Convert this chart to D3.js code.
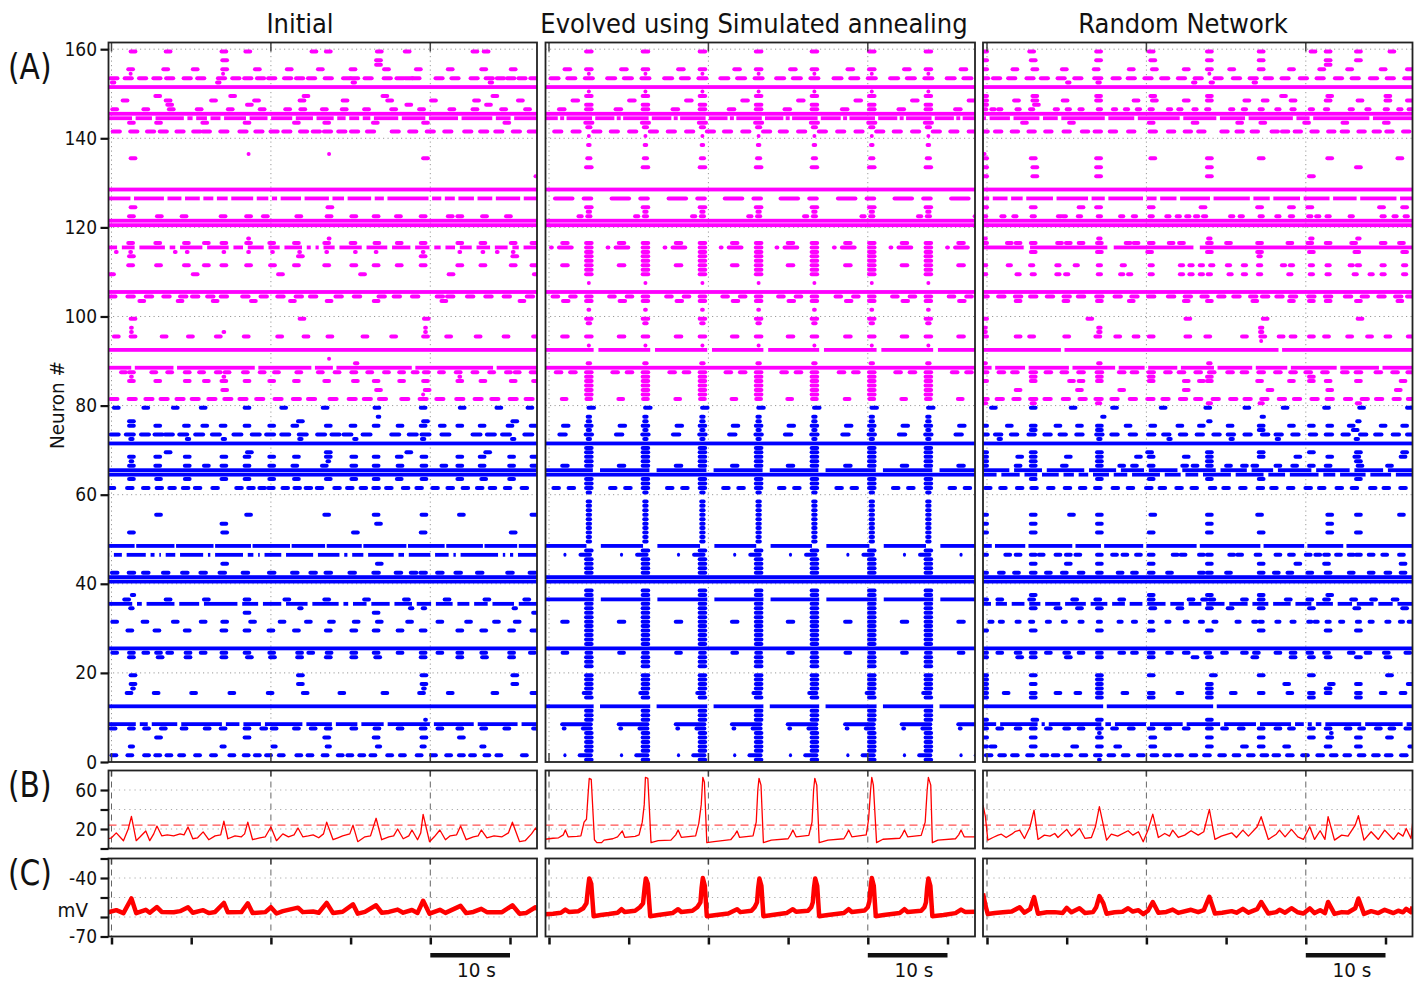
<!DOCTYPE html>
<html><head><meta charset="utf-8">
<script src="https://cdn.jsdelivr.net/npm/d3@7"></script>
<style>body{margin:0;background:#fff}svg{display:block}text{font-family:"DejaVu Sans",sans-serif;fill:#111}</style>
</head><body><svg id="c" width="1419" height="981"></svg>
<script>
const titles = ["Initial", "Evolved using Simulated annealing", "Random Network"];
const timeTicks = [0, 10, 20, 30, 40, 50];
const gridTimes = [0, 20, 40];
const neuronTicks = [0, 20, 40, 60, 80, 100, 120, 140, 160];
const rateTicks = [0, 20, 40, 60], rateLabels = [20, 60];
const voltTicks = [-70, -60, -50, -40, -30], voltLabels = [-70, -40];
const rateThreshold = 24;
const evolvedEvents = [5.0, 12.1, 19.25, 26.3, 33.3, 40.5, 47.6, 54.7];

// row formats: [neuron, [burst times], width] | [neuron,'L',gaps,gapWidth] | [neuron,'E',offsets,width] | [neuron,'ES',segments] | [neuron,'EL',gapSegments]
const initialRows = [
[159,[2.7,7.1,14.1,17.1,25.4,27.2,33.6,37.1,45.6,47.0]],
[157,[14.2,33.5]],[156,[33.5]],
[155,[2.4,6.8,10.5,14.2,18.3,22.3,26.2,30.3,34.5,38.5,42.5,46.7,50.4]],
[154,[2.4,14.0],0.5],
[153,[0.3,2.1,3.9,5.7,7.3,9.5,11.2,13.8,15.6,17.1,18.7,20.1,22.1,23.6,25.1,27.2,29.5,30.5,32.2,34.6,36.2,37.3,38.2,41.1,43.1,45.5,47.4,48.8,50.1,51.5,53.0],1.4],
[152,[0.2,13.4,30.4,47.6],0.8],
[151,'L'],
[149,[5.8,15.2,24.4,34.3,48.1]],
[148,[1.7,7.1,12.8,18.2,23.9,29.3,34.9,40.4,45.8,51.3]],
[147,[7.3,17.3,37.3,47.3]],
[146,[0.4,4.3,7.5,11.0,14.9,18.9,22.1,24.0,26.7,29.2,32.0,35.4,38.9,42.7,45.6,49.2,52.2]],
[145,'L'],
[144,'L',[2.8,5.3,9.3,10.4,12.2,13.9,17.1,19.8,22.9,25.5,28.1,29.6,31.3,32.7,36.2,39.6,43.7,48.0,50.3]],
[143,[2.5,5.9,11.7,17.0,23.2,27.0,33.1,39.4,49.6]],
[141,[0.6,2.8,4.9,6.5,8.6,10.7,11.9,14.1,16.5,18.5,20.4,22.0,24.1,25.7,27.1,28.9,30.5,32.5,35.6,37.8,40.0,42.2,44.7,46.7,48.6,50.8,52.8],1.4],
[136,[17.2,27.3],0.5],
[135,[2.7,39.4]],
[131,[53.2],0.5],
[128,'L'],
[126,'L',[2.6,6.8,9.0,11.3,13.0,14.8,18.0,19.9,21.0,24.0,27.5,29.4,32.8,34.4,40.0,41.6,43.3,45.7,48.0,51.5]],
[124,[2.7,27.4]],
[122,[2.5,6.0,9.1,14.0,17.2,19.3,23.5,27.3,30.4,33.2,36.0,39.1,42.5,43.7,46.8,49.8]],
[121,'L'],[120,'L'],
[117,[17.2,27.3],0.6],
[116,[2.4,5.8,9.4,11.9,14.1,17.2,20.1,23.2,27.0,30.3,33.3,36.1,39.1,43.7,46.6,50.4,53.0]],
[115,'L',[1.0,3.2,7.0,8.3,11.7,15.0,16.8,19.4,21.4,24.2,25.3,26.3,28.3,31.7,34.9,37.8,40.2,41.6,43.4,45.5,47.8,50.0,51.4],0.6],
[114,[0.6,2.4,8.0,9.5,14.1,17.2,20.2,23.6,27.0,30.6,33.2,39.1,43.7,46.6,48.4,50.4],0.6],
[113,[2.5,23.7,39.1,50.6]],
[111,[2.4,5.9,9.4,11.9,14.1,17.2,20.2,23.2,27.0,30.4,33.2,36.1,39.1,43.7,46.6,50.4,53.0]],
[109,[0.0,10.5,21.2,31.5,42.6,53.3]],
[105,'L'],
[104,[0.1,2.4,4.7,6.9,9.0,10.5,12.4,14.1,16.8,19.1,21.2,23.5,25.3,28.5,30.8,33.9,35.8,38.1,41.2,42.5,45.0,47.3,49.6,52.5],1.3],
[103,[3.8,8.6,13.0,17.8,22.7,27.3,33.2,41.7,51.5]],
[99,[2.7,23.9,39.5]],
[97,[2.5,39.4],0.6],[96,[2.5,14.1,39.4],0.6],
[95,[0.6,2.7,6.6,9.9,13.4,16.9,21.1,24.4,27.4,31.8,35.4,39.4,42.3,46.0,49.5,53.2]],
[92,'L'],
[90,[27.3],0.5],[89,[30.7],0.8],
[88,'L',[2.7,8.0,18.2,25.3,28.0,37.9,48.1]],
[87,[1.5,2.5,5.3,7.3,9.5,11.3,13.4,14.5,16.8,18.9,20.7,23.5,26.2,28.3,30.4,32.4,34.5,36.4,38.1,39.5,41.4,43.5,45.6,47.7,49.8,50.9,52.9]],
[86,[2.5,14.1,43.7],0.6],
[85,[2.5,5.8,9.5,11.9,14.1,17.0,20.1,23.2,27.0,30.6,33.2,36.4,39.4,43.7,46.6,50.4,53.2]],
[83,[14.2,33.5,39.6]],
[82,[39.1],0.5],
[81,[0.3,2.6,4.7,6.6,8.6,10.5,12.6,14.6,16.5,18.6,20.9,23.2,25.1,27.8,30.2,32.1,34.0,36.8,39.1,41.2,43.7,46.0,48.1,50.4,52.4],1.4],
[79,[0.6,4.3,8.0,11.5,17.0,21.6,26.8,33.3,39.1,44.0,48.6,52.5]],
[77,[33.5],0.7],
[76,[2.5,23.7,39.4,50.6]],
[75,[2.5,5.8,9.4,11.7,14.0,17.0,20.1,23.0,27.2,30.3,33.2,36.2,39.1,41.5,43.7,46.5,50.0,52.9]],
[73,[0.4,2.3,4.2,5.9,7.2,9.0,11.0,13.1,15.8,18.1,19.9,21.8,24.0,26.3,28.1,29.6,32.0,35.6,37.8,39.4,41.9,45.8,47.6,49.5,52.3],1.5],
[72,[2.5,9.6,14.1,23.7,30.6,39.1,50.4],0.8],
[71,'L'],
[69,[7.1,17.3,27.2,37.3,47.2]],
[68,[2.5,5.8,9.5,14.1,17.0,20.1,23.2,27.2,30.4,33.2,36.1,39.2,43.7,46.5,50.2,53.0]],
[67,[2.5,27.2],0.7],
[66,[2.5,5.8,9.5,11.9,14.1,17.0,20.1,23.0,26.7,30.4,33.2,36.2,39.2,41.7,43.7,46.5,50.2,53.0]],
[65,'L'],[64,'L'],
[63,[2.5,5.9,9.5,14.1,17.0,20.1,23.2,27.2,30.4,33.2,36.1,39.2,43.7,46.7,50.2]],
[61,[0.0,2.3,4.3,6.0,7.6,9.3,10.8,13.0,16.0,17.5,18.9,20.0,21.8,23.3,24.7,26.1,28.3,29.9,31.6,33.2,34.8,36.9,38.6,40.6,42.5,44.4,46.2,47.8,49.7,51.8],1.2],
[55,[5.9,17.2,27.0,33.2,39.2,43.9,53.0]],
[53,[14.1,33.5]],
[51,[2.5,14.2,30.6,39.1,50.4]],
[48,'L',[3.0,8.0,12.9,17.6,22.5,26.9,31.5,37.1,41.9,46.7,51.0],0.2],
[46,'L',[0.0,1.6,4.6,5.7,6.5,8.3,11.8,12.7,16.8,18.1,18.9,21.6,25.6,28.9,29.9,31.9,35.7,37.0,40.3,42.6,43.5,48.8,49.7,50.7],0.6],
[44,[14.2,33.6]],
[42,[0.4,2.5,4.3,6.8,9.2,11.5,13.9,16.8,20.1,23.0,25.3,27.2,30.2,33.2,36.0,37.9,39.1,41.2,43.5,46.2,50.0,52.8],1.2],
[41,'L'],[40,'L'],
[37,[2.7],0.8],
[36,[1.9,7.1,11.9,17.0,22.0,27.0,32.0,37.0,42.1,47.1,52.1]],
[35,'L',[2.9,4.1,8.2,11.3,16.1,18.7,21.6,24.9,28.8,30.0,32.3,35.2,38.0,40.4,43.1,45.2,47.5,50.8],0.6],
[34,[2.5,23.7,37.6,39.2,50.6],0.8],
[33,[17.0,33.2,53.2]],
[31,[0.4,4.2,8.0,11.5,14.2,17.7,21.4,24.7,27.6,30.7,33.6,37.4,41.2,44.8,48.3,50.9]],
[29,[2.3,5.7,9.5,14.1,17.0,20.0,23.2,27.2,30.4,33.2,36.2,39.1,43.7,46.7,50.2,53.0]],
[25,'L'],
[24,[0.4,2.5,4.3,5.9,7.3,9.6,11.5,14.1,17.0,20.1,23.6,25.0,27.3,30.4,33.2,36.2,39.1,41.2,43.7,46.7,50.2,52.8]],
[23,[2.5,6.1,9.6,14.1,17.3,20.2,23.6,27.2,30.4,33.4,39.1,43.7,46.8,50.2]],
[19,[2.7,23.7,39.2,50.6]],
[17,[2.7,23.7,39.2,50.6]],
[16,[2.7,39.2],0.7],
[15,[2.2,5.6,10.3,15.1,19.9,24.3,28.9,34.3,38.9,42.5,48.1,53.0]],
[12,'L'],
[9,[39.4],0.6],
[8,'L',[3.3,4.8,8.5,14.1,16.3,19.0,24.2,27.9,31.1,34.4,40.2,45.7,51.2],0.5],
[7,[0.2,2.5,4.4,6.5,9.1,12.0,14.0,17.0,19.1,20.4,23.2,25.3,27.2,30.4,33.3,36.2,39.1,41.2,43.7,46.7,49.6,53.2]],
[5,[5.9,17.0,27.0,33.2,39.2,43.9]],
[3,[2.5,14.0,20.4,27.2,33.5,39.1,46.6],0.9],
[1,[0.3,2.3,4.4,5.8,7.2,8.8,10.8,12.8,15.1,16.9,18.3,19.7,21.3,23.5,24.9,26.8,28.7,29.9,31.4,32.8,34.9,36.5,38.6,40.4,42.3,43.9,45.3,47.1,48.6,51.8]]
];

const evolvedRows = [
[159,'E',[0]],[155,'E',[-2.7,0]],[154,'E',[0],0.5],[153,'E',[-4.3,-2.2,0],1.5],
[151,'L'],[150,'E',[0],0.5],[149,'E',[0]],[148,'E',[-1.7],1.2],[147,'E',[0]],[146,'E',[-3.4,0]],
[145,'L'],[144,'EL',[[-3.9,-3.6],[-3.1,-2.8],[0.4,0.8]]],
[143,'E',[0],1.4],[142,'E',[0],0.9],[141,'E',[-3.9,-1.6,1.0],1.4],[140,'E',[0],0.5],
[138,'E',[0],0.7],[135,'E',[0],0.9],[133,'E',[0],1.2],
[128,'L'],[126,'ES',[[-4.5,-1.8],[-0.9,0.55]]],
[124,'E',[0],1.2],[123,'E',[0],0.8],[122,'E',[-1.1,0],0.9],
[121,'L'],[120,'L'],
[116,'E',[-3.0,0],1.2],[115,'ES',[[-5.0,-4.4],[-4.0,-1.9],[-0.6,0.6]]],
[114,'E',[0]],[113,'E',[0]],[112,'E',[0]],[111,'E',[-3.0,0]],[110,'E',[0]],[109,'E',[0]],
[107,'E',[0],0.5],[105,'L'],[104,'E',[-4.2,-2.0,0],1.2],[103,'E',[-2.9,0]],
[101,'E',[0],0.6],[99,'E',[0],1.2],[98,'E',[0],0.8],[95,'E',[-3.0,0],1.2],[93,'E',[0],0.5],
[92,'EL',[[0.6,1.2]]],[89,'E',[0],0.8],[88,'L'],[87,'E',[-3.8,-2.0,0],1.2],
[86,'E',[0]],[85,'E',[0]],[84,'E',[0]],[83,'E',[0]],[82,'E',[0]],[81,'E',[-3.1,0],1.1],
[79,'E',[0.3],1.2],[77,'E',[0],0.8],[76,'E',[0],0.8],[75,'E',[-2.9,0]],[74,'E',[0],0.8],
[73,'E',[-3.3,0],1.3],[72,'E',[0],0.8],[71,'L'],
[70,'E',[0]],[69,'E',[0]],[68,'E',[0]],[67,'E',[0]],[66,'E',[-3.0,0],1.2],
[65,'EL',[[0.5,1.4]]],[64,'L'],[63,'E',[0]],[62,'E',[0]],[61,'E',[-4.1,-2.2,0]],[60,'E',[0],0.8],
[58,'E',[0],0.8],[57,'E',[0],0.8],[56,'E',[0],0.8],[55,'E',[0],0.8],[54,'E',[0],0.8],
[53,'E',[0],0.8],[52,'E',[0],0.8],[51,'E',[0],0.8],[50,'E',[0],0.8],[49,'E',[0],0.8],
[48,'EL',[[-0.3,1.5]]],[47,'E',[0]],[46,'ES',[[-3.2,-2.8],[-1.3,0.4]]],
[45,'E',[0]],[44,'E',[0]],[43,'E',[0]],[42,'E',[0]],
[41,'L'],[40,'L'],
[38,'E',[0]],[37,'E',[0]],[36,'EL',[[0.6,1.5]]],[35,'E',[0]],[34,'E',[0]],[33,'E',[0]],
[32,'E',[0]],[31,'E',[-3.0,0]],[30,'E',[0]],[29,'E',[0]],[28,'E',[0]],[27,'E',[0]],[26,'E',[0]],
[25,'L'],[24,'E',[-3.0,0],1.1],[23,'E',[0]],[22,'E',[0]],[21,'E',[0]],
[19,'E',[0]],[18,'E',[0]],[17,'E',[0]],[16,'E',[0]],[15,'ES',[[-0.9,0.5]]],[14,'E',[0]],
[12,'EL',[[0.6,1.4]]],
[11,'E',[0]],[10,'E',[0]],[9,'E',[0]],[8,'ES',[[-3.6,0.5]]],[7,'ES',[[-3.4,-2.8],[-1.0,0.5]]],
[6,'E',[0]],[5,'E',[0]],[4,'E',[0]],[3,'E',[0]],[2,'E',[0]],[1,'ES',[[-3.2,-2.8],[-1.4,0.5]]],[0,'E',[0]]
];

const randomRows = [
[159,[-0.3,5.6,14.0,20.6,27.9,34.4,40.9,42.8,46.6,50.8]],
[157,[-0.3,5.8,14.0,20.8,27.9,34.4,42.8,46.6]],
[156,[42.8]],
[155,[-0.3,3.5,6.0,9.7,13.7,18.1,21.0,25.0,27.9,30.7,34.4,38.2,42.0,45.5,49.7,53.0]],
[154,[27.9],0.5],
[153,[-0.3,1.2,3.1,5.4,7.2,9.3,11.4,13.9,16.2,18.1,20.2,22.3,24.4,26.5,29.0,31.3,33.4,35.3,37.4,39.7,41.8,44.1,46.2,48.5,50.6,52.8],1.4],
[152,[10.2,14.0,26.0,28.2,33.6],0.8],
[151,'L'],
[149,[-0.3,6.0,14.0,20.8,27.9,37.2,43.0,50.3]],
[148,[-0.3,3.7,6.0,9.8,14.0,18.7,21.0,25.0,27.9,32.6,34.9,38.4,42.8,46.8,50.3,53.0]],
[147,[-0.3,6.2]],
[146,[-0.3,0.75,1.6,3.9,5.6,8.7,10.2,11.8,14.1,16.0,17.5,19.0,20.6,22.9,24.2,26.1,27.7,30.7,32.3,34.4,36.5,38.4,40.7,42.6,45.7,47.8,50.1,51.8,53.1],0.9],
[145,'L'],
[144,'L',[0.1,3.1,6.8,9.1,15.0,18.7,24.4,29.0,32.6,38.6,40.7,48.2]],
[143,[4.7,10.6,20.6,26.1,31.7,34.6,40.1,44.9,50.1]],
[141,[-0.3,1.4,3.5,5.6,7.7,10.0,12.3,13.9,15.8,18.1,20.8,23.1,25.2,26.9,29.8,31.7,33.6,36.1,37.4,39.0,41.1,43.2,44.9,47.0,48.9,50.5,52.6],1.3],
[136,[-0.3],0.5],
[135,[-0.3,5.8,14.0,20.8,27.9,34.4,43.0,51.8]],
[133,[-0.3,6.0,14.0,27.9,46.6]],
[131,[-0.3,6.0,14.0,27.9,40.7]],
[128,'L'],
[126,'L',[0.5,2.8,4.7,8.5,12.9,15.0,19.8,21.5,24.0,28.2,33.2,35.7,39.5,43.2,46.6,51.6]],
[124,[-0.3,5.8,11.8,14.0,20.6,27.1,34.2,38.2,40.5,49.5,52.4]],
[122,[-0.3,2.0,3.5,5.8,9.1,9.7,11.6,14.1,16.9,18.5,20.6,22.7,24.0,25.2,26.3,27.3,30.7,31.9,34.4,36.5,38.2,40.5,41.5,42.8,45.7,49.7,51.2,52.6],0.9],
[121,'L'],[120,'L'],
[117,[-0.3,14.1,27.9,40.7,46.6],0.8],
[116,[-0.3,2.8,3.9,5.8,9.1,10.2,11.8,14.1,17.7,18.7,20.6,23.1,24.4,27.9,30.3,34.2,38.0,40.5,42.8,46.0,49.7,52.0]],
[115,'L',[5.0,15.5,26.3],0.8],
[114,[5.8,14.1,20.4,27.9,34.2,40.7,46.4,52.4]],
[113,[34.2],0.8],
[111,[-0.3,2.8,5.6,8.9,11.2,14.1,17.1,20.6,24.4,25.6,26.9,28.2,30.3,32.3,34.2,37.2,38.2,40.7,42.8,45.7,46.6,49.7,52.4],0.9],
[109,[-0.3,3.9,5.8,8.9,10.0,14.1,16.9,17.9,20.6,24.4,25.6,26.9,27.9,30.5,32.3,34.2,38.0,40.7,42.8,46.2,48.2,49.7,52.4],0.9],
[105,'L'],
[104,[-0.3,1.8,3.9,5.8,7.9,10.0,11.8,14.1,16.4,18.5,20.6,23.1,25.2,27.3,29.4,31.3,33.4,34.9,36.7,38.4,40.7,42.8,45.3,47.4,49.5,51.6,53.1],1.3],
[103,[3.9,9.9,14.1,18.1,25.0,27.9,33.6,38.2,40.7,42.8,46.6,51.8]],
[99,[-0.3,12.9,25.2,34.9,46.8]],
[97,[-0.3,14.1,34.4],0.8],[96,[-0.3,14.1,34.4],0.8],
[95,[-0.3,3.9,5.6,10.0,13.9,16.4,18.7,20.6,25.2,27.7,32.3,34.6,36.9,38.4,40.7,42.6,45.5,48.0,50.3,53.1]],
[94,[34.4],0.5],
[92,'L',[9.5,36.8]],
[89,[-0.3,14.1,27.9],0.8],
[88,'L',[0.8,5.0,10.5,16.3,20.0,24.1,28.7,33.5,37.9,44.1,49.4]],
[87,[-0.3,1.8,3.5,5.8,7.7,9.7,11.8,14.1,16.9,18.5,20.6,22.7,24.4,26.5,28.2,30.5,32.3,34.4,36.5,38.4,40.3,42.4,44.9,46.6,49.1,51.2,53.1],1.2],
[86,[5.8,14.1,20.6,27.9,40.7]],
[85,[-0.3,5.8,10.6,11.8,14.1,20.6,25.0,26.9,27.9,34.2,38.2,40.7,42.8,46.6,52.2]],
[83,[3.9,11.6,16.9,25.0,35.5,43.0,51.6]],
[81,[-0.3,1.6,3.7,5.8,7.6,9.9,12.0,14.0,16.0,18.3,20.5,22.4,24.6,26.5,28.7,30.9,32.7,34.8,37.0,38.9,41.1,43.0,45.3,47.4,49.2,51.4,53.2],1.3],
[80,[-0.3,5.8,14.0,27.9,34.4,46.6],0.9],
[79,[0.8,5.8,10.8,16.0,22.1,27.7,32.6,37.4,42.6,47.0,53.0]],
[77,[14.6,34.6],0.8],
[76,[27.9,46.6],0.8],
[75,[-0.3,2.8,5.8,8.9,11.6,14.1,17.7,20.8,24.2,26.9,30.5,34.4,38.2,40.7,43.0,45.7,49.7,52.4]],
[74,[5.8,14.1,34.4,46.2]],
[73,[-0.3,1.4,3.4,5.6,7.6,9.5,11.6,14.1,16.0,18.3,20.6,22.5,24.6,26.7,28.8,30.6,32.7,34.9,36.6,38.7,40.9,42.9,45.0,47.2,49.1,51.3,53.1],1.3],
[72,[1.6,14.1,22.9,30.7,36.5,46.4],0.8],
[71,'L'],
[69,[-0.3,5.8,14.1,20.4,27.9,34.4,40.7,46.6,52.4]],
[68,[-0.3,4.1,5.8,10.2,14.1,19.0,20.6,25.0,27.9,34.4,39.0,43.0,46.4,52.2]],
[67,[-0.3,5.8,14.1,27.9,46.6]],
[66,[-0.3,3.9,5.8,9.7,14.1,16.9,18.5,20.6,24.8,26.1,27.9,30.3,32.3,33.6,36.5,38.6,40.7,42.8,46.8,50.5]],
[65,'L',[3.1,7.2,12.5,16.5,20.0,24.2,29.0,32.9,36.2,41.0,45.8,50.0],0.6],
[64,'L',[1.5,4.4,6.6,9.3,11.2,13.0,15.6,17.9,22.0,24.6,26.8,30.9,35.0,37.7,41.9,44.0,47.8,51.0],0.6],
[63,[5.8,14.1,20.6,27.9,34.4,46.6]],
[61,[0.1,2.0,4.1,5.9,8.0,10.1,12.0,13.9,16.1,18.0,20.3,22.0,24.1,26.0,28.3,30.0,32.1,34.3,36.0,38.1,40.3,42.0,44.2,46.1,48.4,50.1,52.2],1.2],
[55,[-0.3,5.8,10.6,14.1,20.8,27.9,34.2,43.0,46.6,52.0]],
[53,[-0.3,5.8,14.1,27.9,43.0]],
[51,[-0.3,5.8,14.1,20.6,27.9,34.4,43.0,46.6]],
[48,'L',[0.8,5.0,10.9,14.5,19.8,26.5,34.5,40.0,44.9],0.4],
[46,[-0.3,2.6,3.9,5.8,6.8,8.9,10.2,11.4,14.1,16.0,17.3,19.0,20.6,23.6,24.6,26.9,27.9,30.7,31.7,34.0,36.5,38.2,40.3,41.5,42.6,44.1,45.7,46.6,48.2,49.9,52.0],1.1],
[44,[5.8,10.2,14.1,20.6,27.9,34.4,39.0,42.6,52.2]],
[42,[-0.3,1.8,3.7,5.8,7.7,9.7,11.8,14.1,16.7,18.5,20.6,22.9,26.9,27.9,30.3,34.4,36.3,38.0,40.5,42.8,45.7,48.2,50.3,52.2],1.1],
[41,'L'],[40,'L'],
[37,[5.8,20.6,27.9,34.4,43.0]],
[36,[-0.3,1.6,5.6,11.0,13.9,16.9,20.6,25.6,27.3,28.2,32.3,34.4,37.8,40.5,42.6,46.0,48.5,51.2]],
[35,'L',[0.8,2.8,5.0,7.0,9.5,12.7,15.4,17.6,19.8,22.7,25.0,27.2,30.1,33.0,35.6,38.4,41.0,43.7,46.1,48.8,51.2],0.6],
[34,[5.8,8.9,11.6,14.1,20.8,24.2,27.9,30.5,34.4,40.7,46.4,52.4]],
[31,[0.5,1.8,3.9,5.6,7.7,9.7,11.8,14.1,16.7,18.5,20.6,22.7,25.0,26.9,28.6,31.5,33.6,34.4,36.5,38.4,40.5,41.3,42.8,44.5,46.6,48.2,50.3,52.0,53.1],0.9],
[29,[-0.3,5.8,14.1,20.6,27.9,34.4,42.8,46.6]],
[25,'L'],
[24,[-0.3,1.6,3.9,5.8,7.7,10.0,11.8,14.1,16.9,18.5,20.6,22.9,25.0,27.7,29.8,32.3,33.8,36.5,38.4,40.5,42.6,45.7,47.8,50.1,52.8]],
[23,[-0.3,4.1,5.8,10.2,14.1,20.6,26.1,27.9,33.6,38.4,40.7,42.8,46.6,50.3]],
[19,[-0.3,5.8,14.1,20.6,28.4,34.4,40.7,50.5]],
[18,[-0.3,14.1]],
[17,[-0.3,5.8,14.1,27.9,37.6,43.2,46.6,53.1]],
[16,[-0.3,14.1,27.9,42.8]],
[15,[-0.3,2.4,5.8,8.9,11.4,14.1,17.3,20.6,24.2,27.9,30.9,34.4,38.0,40.7,42.8,46.6,49.7,52.2]],
[14,[-0.3,5.8,14.1,20.6,27.9,40.7,46.6]],
[12,'L',[14.8,28.6]],
[9,[-0.3,6.0,14.1,27.9]],
[8,'L',[1.4,6.6,7.5,14.6,15.8,20.2,24.8,29.5,34.0,38.4,40.0,41.0,42.2,47.2,52.4],0.5],
[7,[-0.3,1.6,3.9,5.8,7.7,10.0,11.8,14.1,16.0,18.1,20.6,22.7,25.0,27.9,29.8,31.9,34.4,36.5,38.2,40.7,42.8,45.3,47.0,49.1,50.8,52.8]],
[6,[14.1,43.2],0.6],
[5,[-0.3,5.8,14.1,20.8,27.9,34.4,40.7,43.0,46.6,50.5]],
[3,[-0.3,0.75,5.8,11.0,14.1,16.4,20.8,27.9,32.3,34.4,37.6,42.8,46.6,53.3]],
[1,[0.2,1.9,3.5,5.4,7.2,8.6,10.2,12.1,13.9,15.6,17.4,19.3,21.0,22.6,24.1,25.9,27.6,29.5,31.3,33.1,34.8,36.3,38.0,39.9,41.8,43.5,45.2,47.0,48.8,50.4,52.3],1.2],
[0,[14.1],0.6]
];

const initialRate = [[-0.4,10],[0,11],[0.6,16],[1.5,8],[2.1,20],[2.5,33],[3.1,8],[3.6,12],[4.3,18],[4.8,8],[5.3,15],[5.7,23],[6.3,13],[7,14],[7.8,13],[8.6,15],[9.1,14],[9.6,22],[10.2,10],[10.8,11],[11.5,17],[12.2,9],[13,13],[13.7,14],[14.1,28],[14.6,10],[15.5,13],[16.3,12],[16.7,15],[17.1,27],[17.7,9],[18.6,11],[19.3,12],[20,22],[20.7,8],[21.5,15],[22.2,12],[22.9,14],[23.4,21],[24,12],[24.7,13],[25.3,14],[26,11],[26.6,15],[27,27],[27.8,9],[28.4,11],[29,13],[29.9,15],[30.3,24],[30.9,7],[31.8,12],[32.5,13],[33.2,31],[33.9,9],[34.8,12],[35.4,13],[35.9,20],[36.6,10],[37.3,13],[37.7,19],[38.4,9],[38.8,16],[39.1,35],[39.9,7],[40.5,12],[41.2,19],[41.9,9],[42.5,13],[43.3,14],[43.8,23],[44.5,9],[45.4,12],[46.0,13],[46.4,19],[47.1,11],[48,13],[49,12],[49.8,16],[50.3,27],[51.2,7],[51.9,8],[52.7,15],[53.2,21],[53.5,18]];
const evolvedRate = [[-0.5,9.5],[0.5,10.5],[1.2,11],[1.8,14],[2.05,19],[2.4,12],[3.5,12.5],[4.0,13],[4.4,27],[4.7,30],[4.9,55],[5.05,72],[5.3,71],[5.5,40],[5.7,9],[6.0,6],[6.6,6],[6.9,8.6],[8.0,10],[8.6,12],[8.9,15],[9.2,18],[9.5,11.5],[10.8,12.5],[11.3,14],[11.7,27],[11.95,45],[12.1,73],[12.4,72],[12.6,40],[12.8,6],[13.7,8],[15.3,8.6],[15.9,14],[16.2,19],[16.6,11.5],[18.4,13],[18.8,26],[19.1,45],[19.3,73],[19.5,68],[19.8,6],[20.7,7],[22.8,9],[23.3,14],[23.6,18],[23.9,11.5],[25.6,13],[26.0,27],[26.2,60],[26.35,72],[26.6,65],[26.9,6],[27.9,8.6],[30.0,10],[30.3,14],[30.6,19],[31.0,12],[32.6,13.5],[33.0,27],[33.2,60],[33.35,72],[33.6,65],[33.9,6],[35.0,8.6],[37.0,10],[37.3,14],[37.6,19],[38.0,12],[39.8,14],[40.1,30],[40.35,60],[40.5,73],[40.7,65],[41.1,6],[41.9,9.5],[44.0,10.5],[44.3,14],[44.6,19],[45.0,12],[46.7,13.5],[47.2,27],[47.45,60],[47.6,73],[47.9,65],[48.1,6],[48.8,8.6],[51.0,10],[51.4,14],[51.7,19],[52.1,12],[53.5,12]];
const randomRate = [[-0.5,44.6],[-0.2,32.6],[0.1,8.6],[0.75,11.3],[1.4,13.7],[1.8,14.7],[2.4,11.3],[3.1,14.7],[3.5,17.2],[4.1,18.9],[4.7,10.3],[5.4,22.3],[5.9,39.4],[6.4,9.3],[7.2,13.7],[7.9,12.7],[8.5,15.4],[8.9,11.3],[10.0,19.6],[10.6,12.7],[11.0,15.4],[11.6,20.6],[12.3,10.3],[13.1,11.3],[13.6,22.3],[14.1,42.9],[15.0,8.6],[15.6,14.7],[16.4,12.7],[17.7,18.2],[18.3,13.7],[19.0,17.2],[19.6,6.9],[20.2,18.9],[20.8,35.3],[21.5,11.3],[22.3,15.4],[22.9,12.7],[23.3,18.9],[24.0,11.3],[24.8,13.7],[25.6,18.2],[26.5,13.7],[27.2,17.2],[27.9,40.1],[28.6,9.3],[29.4,12.7],[30.7,16.1],[31.3,11.3],[32.1,18.9],[32.8,12.7],[33.9,22.3],[34.4,32.6],[35.3,9.3],[36.3,14.7],[36.7,18.9],[37.4,12],[38.2,19.6],[39.0,12],[39.7,9.3],[40.5,22.3],[41.1,9.3],[41.8,18.2],[42.4,9.3],[42.8,32.6],[43.6,8.6],[44.5,13.7],[45.3,12.7],[46.2,24],[46.6,33.6],[47.3,8.6],[48.2,17.2],[49.1,9.3],[49.9,18.9],[51.0,9.3],[51.6,16.1],[52.2,12.7],[52.6,20.6],[53.2,10.3],[53.4,25.7]];

const initialVolt = [[-0.4,-57.6],[0.6,-56.5],[1.5,-58],[2.5,-50.5],[3.1,-58],[4.3,-56.3],[4.8,-57.8],[5.7,-54.9],[6.3,-57.4],[7.8,-57.6],[8.6,-57.0],[9.6,-55.0],[10.2,-57.8],[11.5,-56.5],[12.2,-58],[13,-57.4],[14.1,-52.8],[14.6,-57.6],[16.3,-57.5],[17.1,-53.0],[17.7,-58],[19.3,-57.5],[20,-55],[20.7,-58.2],[21.5,-57],[23.4,-55.2],[24,-57.5],[25.3,-57.2],[26,-57.8],[27,-52.8],[27.8,-58],[29,-57.3],[30.3,-53.5],[30.9,-58.3],[31.8,-57.4],[33.2,-54],[33.9,-57.8],[34.8,-57.4],[35.9,-56.2],[36.6,-57.8],[37.7,-56.4],[38.4,-57.9],[39.1,-51.7],[39.9,-58.3],[41.2,-56.3],[41.9,-57.9],[43.8,-54.3],[44.5,-58],[45.4,-57.4],[46.4,-55.8],[47.1,-57.5],[49,-57.5],[50.3,-54.0],[51.2,-58.3],[52,-58],[53.2,-55],[53.5,-56]];
const evolvedVolt = [[-0.5,-58.6],[0.5,-58.3],[1.5,-57.8],[2.05,-56.2],[2.5,-57.4],[3.7,-57.0],[4.3,-55.5],[4.7,-53.0],[4.9,-45],[5.05,-40.2],[5.3,-43],[5.6,-59.6],[6.5,-59.0],[7.5,-58.5],[8.6,-57.8],[9.1,-56.0],[9.5,-57.4],[10.8,-56.8],[11.4,-55],[11.8,-53],[12.0,-45],[12.15,-40.2],[12.4,-43],[12.7,-59.6],[13.7,-59.0],[15.5,-58.0],[16.2,-56.0],[16.6,-57.4],[18.0,-56.8],[18.6,-55],[19.0,-52.5],[19.15,-45],[19.3,-40],[19.55,-44],[19.8,-59.6],[21,-59],[22.5,-58.2],[23.6,-56.0],[24,-57.5],[25.4,-56.8],[25.8,-55],[26.1,-52.5],[26.25,-45],[26.4,-40.3],[26.65,-44],[26.9,-59.6],[28,-59],[29.8,-58],[30.6,-56.0],[31,-57.3],[32.5,-56.8],[32.9,-55],[33.1,-52.5],[33.25,-45],[33.4,-40.3],[33.65,-44],[33.9,-59.6],[35,-59],[37,-58],[37.6,-56],[38,-57.4],[39.6,-56.7],[40.0,-55],[40.2,-52],[40.35,-45],[40.5,-40],[40.75,-44],[41.0,-59.6],[42,-59],[44,-58],[44.6,-56],[45,-57.4],[46.7,-56.8],[47.1,-55],[47.3,-52.5],[47.45,-45],[47.6,-40.3],[47.85,-44],[48.1,-59.6],[49.5,-59],[51,-58],[51.7,-56.2],[52.2,-57.4],[53.5,-57.3]];
const randomVolt = [[-0.5,-47.9],[-0.2,-54],[0.1,-58.5],[1.0,-58.0],[2.0,-57.6],[3.1,-57.2],[4.1,-55.0],[4.7,-57.8],[5.4,-56],[5.9,-49.8],[6.4,-58.3],[7.5,-57.6],[8.5,-57.5],[9.5,-57.9],[10.0,-55.3],[10.6,-57.6],[11.6,-55.5],[12.3,-57.9],[13.3,-57.5],[13.7,-55],[14.1,-49.3],[14.6,-53],[15.0,-58.3],[16.0,-57.6],[17.0,-57.3],[17.7,-55.5],[18.3,-57.2],[19.0,-56.5],[19.6,-58.5],[20.2,-56.8],[20.8,-52.3],[21.5,-57.8],[22.5,-57.4],[23.3,-56.2],[24.0,-57.9],[25.6,-56.3],[26.5,-57.5],[27.2,-56.5],[27.9,-49.6],[28.6,-58.2],[29.5,-57.8],[30.7,-57.0],[31.3,-57.8],[32.1,-55.8],[32.8,-57.8],[33.9,-56],[34.4,-52.3],[35.3,-58.2],[36.3,-57.5],[36.7,-56.3],[37.4,-57.8],[38.2,-55.5],[39.0,-57.6],[39.7,-58.2],[40.5,-55.6],[41.1,-58],[41.8,-56.5],[42.4,-58],[42.8,-52.3],[43.6,-58.4],[44.5,-57.5],[45.3,-57.7],[46.2,-55.5],[46.6,-50.5],[47.3,-58.4],[48.2,-57],[49.1,-58],[49.9,-56.3],[51.0,-58],[51.6,-56.8],[52.2,-57.6],[52.6,-55.8],[53.2,-57.5],[53.4,-54.7]];

// ---------- layout ----------
const MAG = "#ff00ff", BLU = "#0000ff", RED = "#ff0000";
const svg = d3.select("#c");
const defs = svg.append("defs");
const cols = [{tx0:111.5,x0:108.5,x1:537,tc:300},{tx0:549,x0:545.5,x1:975,tc:754},{tx0:987,x0:983,x1:1412.5,tc:1183}];
const PX10 = 79.7;
const PA = {top:42.5,bot:762}, PB = {top:770.5,bot:848.5}, PC = {top:858.5,bot:936.5};
const yA = d3.scaleLinear().domain([0,161.5]).range([PA.bot,PA.top]);
const yB = d3.scaleLinear().domain([0,80]).range([PB.bot,PB.top]);
const yC = d3.scaleLinear().domain([-70,-30]).range([PC.bot,PC.top]);
const panels = [
  {rows: initialRows, rate: initialRate, volt: initialVolt},
  {rows: evolvedRows, rate: evolvedRate, volt: evolvedVolt},
  {rows: randomRows, rate: randomRate, volt: randomVolt}
];

function label(x, y, str, size, anchor, sx, rot){
  const g = svg.append("g").attr("transform",`translate(${x},${y})${rot?` rotate(${rot})`:""} scale(${sx},1)`);
  g.append("text").attr("text-anchor",anchor).style("font-size",size+"px").text(str);
  return g;
}
function lineWithGaps(gaps){
  gaps = gaps.slice().sort((a,b)=>a[0]-b[0]);
  const segs=[]; let cur=-2;
  gaps.forEach(g=>{ if(g[0]>cur) segs.push([cur,g[0]]); cur=Math.max(cur,g[1]); });
  segs.push([cur,56]);
  return segs;
}
function rowSegments(r){
  const k=r[1]; const out=[];
  if(Array.isArray(k)){ const w=r[2]||1.1; k.forEach(t=>out.push({a:t-w/2,b:t+w/2,line:false})); }
  else if(k==='L'){ const gw=r[3]||0.45; const gaps=(r[2]||[]).map(g=>Array.isArray(g)?g:[g-gw/2,g+gw/2]); lineWithGaps(gaps).forEach(s=>out.push({a:s[0],b:s[1],line:true})); }
  else if(k==='E'){ const w=r[3]||1.2; evolvedEvents.forEach(e=>r[2].forEach(o=>out.push({a:e+o-w/2,b:e+o+w/2,line:false}))); }
  else if(k==='ES'){ evolvedEvents.forEach(e=>r[2].forEach(s=>out.push({a:e+s[0],b:e+s[1],line:false}))); }
  else if(k==='EL'){ const gaps=[]; evolvedEvents.forEach(e=>r[2].forEach(s=>gaps.push([e+s[0],e+s[1]]))); lineWithGaps(gaps).forEach(s=>out.push({a:s[0],b:s[1],line:true})); }
  return out.map(s=>Object.assign(s,{n:r[0]}));
}

panels.forEach((p,i)=>{
  const c = cols[i];
  const x = d3.scaleLinear().domain([0,50]).range([c.tx0, c.tx0+5*PX10]);
  const w = c.x1-c.x0;
  [["A",PA],["B",PB],["C",PC]].forEach(([k,P])=>{
    defs.append("clipPath").attr("id",`clip${k}${i}`).append("rect")
      .attr("x",c.x0).attr("y",P.top).attr("width",w).attr("height",P.bot-P.top);
  });
  label(c.tc, 33, titles[i], 27, "middle", 0.9);

  // ----- Panel A -----
  const gA = svg.append("g").attr("clip-path",`url(#clipA${i})`);
  gA.selectAll("line.hg").data(neuronTicks.filter(d=>d>0)).join("line")
    .attr("x1",c.x0).attr("x2",c.x1).attr("y1",d=>yA(d)).attr("y2",d=>yA(d))
    .attr("stroke","#9a9a9a").attr("stroke-width",1).attr("stroke-dasharray","1.2,3.3");
  gA.selectAll("line.vg").data(gridTimes).join("line")
    .attr("x1",d=>x(d)).attr("x2",d=>x(d)).attr("y1",PA.top).attr("y2",PA.bot)
    .attr("stroke","#9a9a9a").attr("stroke-width",1).attr("stroke-dasharray","1.2,3.3");
  const segs = [];
  p.rows.forEach(r=>rowSegments(r).forEach(s=>segs.push(s)));
  gA.selectAll("rect.sp").data(segs).join("rect")
    .attr("x",d=>x(d.a)).attr("width",d=>Math.max(0.5,x(d.b)-x(d.a)))
    .attr("y",d=>yA(d.n+0.5)-(d.line?1.9:2)).attr("height",d=>d.line?3.8:4)
    .attr("rx",d=>d.line?0:2).attr("fill",d=>d.n>=80?MAG:BLU);
  gridTimes.forEach(t=>{
    svg.append("line").attr("x1",x(t)).attr("x2",x(t)).attr("y1",PA.top).attr("y2",PA.top+9).attr("stroke","#444").attr("stroke-width",1.5);
    svg.append("line").attr("x1",x(t)).attr("x2",x(t)).attr("y1",PA.bot-9).attr("y2",PA.bot).attr("stroke","#444").attr("stroke-width",1.5);
  });

  // ----- Panel B -----
  const gB = svg.append("g").attr("clip-path",`url(#clipB${i})`);
  gB.selectAll("line.hg").data([20,40,60]).join("line")
    .attr("x1",c.x0).attr("x2",c.x1).attr("y1",d=>yB(d)).attr("y2",d=>yB(d))
    .attr("stroke","#aaa").attr("stroke-width",1).attr("stroke-dasharray","1.2,4");
  gB.selectAll("line.vg").data(gridTimes).join("line")
    .attr("x1",d=>x(d)).attr("x2",d=>x(d)).attr("y1",PB.top).attr("y2",PB.bot)
    .attr("stroke","#666").attr("stroke-width",1).attr("stroke-dasharray","6,5");
  gB.append("line").attr("x1",c.x0).attr("x2",c.x1).attr("y1",yB(rateThreshold)).attr("y2",yB(rateThreshold))
    .attr("stroke","#ff5050").attr("stroke-width",1.2).attr("stroke-dasharray","8,5");
  gB.append("path").datum(p.rate).attr("fill","none").attr("stroke",RED).attr("stroke-width",1.3)
    .attr("stroke-linejoin","round").attr("d",d3.line().x(d=>x(d[0])).y(d=>yB(d[1])));

  // ----- Panel C -----
  const gC = svg.append("g").attr("clip-path",`url(#clipC${i})`);
  gC.selectAll("line.hg").data([-40,-50,-60]).join("line")
    .attr("x1",c.x0).attr("x2",c.x1).attr("y1",d=>yC(d)).attr("y2",d=>yC(d))
    .attr("stroke","#aaa").attr("stroke-width",1).attr("stroke-dasharray","1.2,4");
  gC.selectAll("line.vg").data(gridTimes).join("line")
    .attr("x1",d=>x(d)).attr("x2",d=>x(d)).attr("y1",PC.top).attr("y2",PC.bot)
    .attr("stroke","#666").attr("stroke-width",1).attr("stroke-dasharray","6,5");
  gC.append("path").datum(p.volt).attr("fill","none").attr("stroke",RED).attr("stroke-width",4.5)
    .attr("stroke-linejoin","round").attr("d",d3.line().x(d=>x(d[0])).y(d=>yC(d[1])));

  [PB,PC].forEach(P=>gridTimes.forEach(t=>{
    svg.append("line").attr("x1",x(t)).attr("x2",x(t)).attr("y1",P.top).attr("y2",P.top+6).attr("stroke","#444").attr("stroke-width",1.5);
  }));

  [PA,PB,PC].forEach(P=>svg.append("rect").attr("x",c.x0).attr("y",P.top).attr("width",w).attr("height",P.bot-P.top)
    .attr("fill","none").attr("stroke","#222").attr("stroke-width",1.8));

  const ax = svg.append("g").attr("transform",`translate(0,${PC.bot+1})`)
    .call(d3.axisBottom(x).tickValues(timeTicks).tickSize(7).tickFormat(""));
  ax.select(".domain").remove();
  ax.selectAll(".tick line").attr("stroke","#111").attr("stroke-width",2.5);

  svg.append("rect").attr("x",x(40)).attr("y",953).attr("width",x(50)-x(40)).attr("height",4.5).attr("fill","#111");
  label(x(45.8), 977, "10 s", 20, "middle", 0.92);

  if(i===0){
    const axA = svg.append("g").attr("transform",`translate(${c.x0},0)`)
      .call(d3.axisLeft(yA).tickValues(neuronTicks).tickSize(8).tickPadding(3));
    const axB = svg.append("g").attr("transform",`translate(${c.x0},0)`)
      .call(d3.axisLeft(yB).tickValues(rateTicks).tickSize(8).tickPadding(3).tickFormat(d=>rateLabels.includes(d)?String(d):""));
    const axC = svg.append("g").attr("transform",`translate(${c.x0},0)`)
      .call(d3.axisLeft(yC).tickValues(voltTicks).tickSize(8).tickPadding(3).tickFormat(d=>voltLabels.includes(d)?String(d):""));
    [[axA,19],[axB,19],[axC,19]].forEach(([a,fs])=>{
      a.select(".domain").remove();
      a.selectAll(".tick line").attr("stroke","#111").attr("stroke-width",2.2);
      a.selectAll(".tick text").style("font-size",fs+"px").style("font-family","'DejaVu Sans',sans-serif")
        .attr("fill","#111").attr("x",-11.5/0.9).attr("transform","scale(0.9,1)");
    });
    label(64, 405, "Neuron #", 20, "middle", 0.92, -90);
    label(88, yC(-56.5)+7, "mV", 20, "end", 0.92);
    [["(A)",79],["(B)",797],["(C)",885]].forEach(([t,y])=>label(8, y, t, 35, "start", 0.85));
  }
});
</script></body></html>
